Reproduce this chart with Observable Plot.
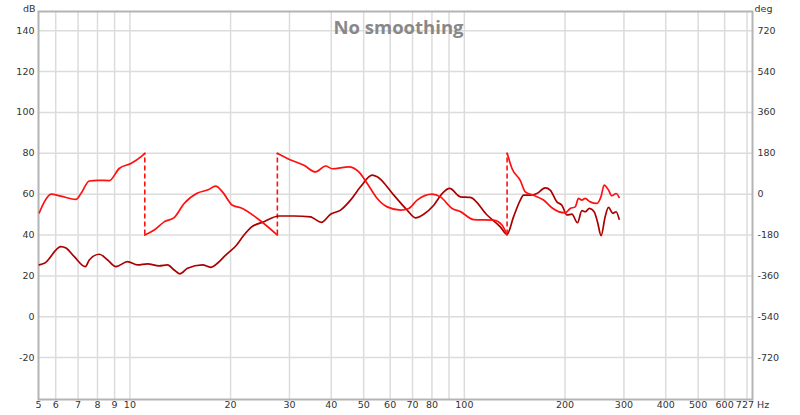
<!DOCTYPE html>
<html>
<head>
<meta charset="utf-8">
<script src="https://cdn.jsdelivr.net/npm/d3@7"></script>
<script src="https://cdn.jsdelivr.net/npm/@observablehq/plot@0.6"></script>
<style>
  html, body { margin: 0; padding: 0; background: #fff; }
</style>
</head>
<body>
<div id="chart"></div>
<script>
// ---- Data ----
const titleText = "No smoothing";
const freqTicks = [5.33, 6, 7, 8, 9, 10, 20, 30, 40, 50, 60, 70, 80, 100, 200, 300, 400, 500, 600, 727];
const freqTickLabels = ["5", "6", "7", "8", "9", "10", "20", "30", "40", "50", "60", "70", "80", "100", "200", "300", "400", "500", "600", "727 Hz"];
const gridFreqs = [6, 7, 8, 9, 10, 20, 30, 40, 50, 60, 70, 80, 90, 100, 200, 300, 400, 500, 600, 700];
const dbTicks = [140, 120, 100, 80, 60, 40, 20, 0, -20];
const degTickLabels = ["720", "540", "360", "180", "0", "-180", "-360", "-540", "-720"];

// SPL magnitude (dB)
const splFreq = [5.36, 5.55, 6.22, 6.44, 6.82, 7.36, 7.56, 8.10, 8.58, 9.08, 9.84, 10.54, 11.29, 12.23, 12.96, 13.56, 14.10, 14.87, 16.48, 17.45, 18.27, 19.34, 20.73, 21.94, 22.98, 25.17, 27.91, 30.94, 34.70, 35.5, 37.35, 39.81, 42.64, 45.67, 48.92, 53.03, 54.89, 61.52, 67.45, 71.4, 75.6, 81.0, 85.8, 90.4, 97.3, 104.2, 116.9, 128.1, 134.1, 140.3, 146.9, 150.3, 157.4, 164.8, 174.5, 180.6, 189.1, 195.7, 202.6, 209.7, 217.9, 224.6, 229.8, 236.6, 244.4, 250.0, 256.4, 263.6, 269.7, 277.9, 284.3, 290.2];
const splDb = [25.4, 26.2, 34.3, 33.6, 29.4, 24.5, 27.8, 30.6, 27.8, 24.5, 27.0, 25.4, 25.9, 24.9, 25.4, 22.9, 21.0, 23.7, 25.4, 24.2, 26.2, 30.2, 34.6, 40.0, 43.6, 46.5, 49.3, 49.3, 48.9, 48.1, 46.2, 50.2, 52.2, 57.1, 63.6, 69.3, 68.5, 59.5, 52.2, 48.4, 50.2, 54.6, 60.3, 62.8, 58.7, 58.4, 49.8, 44.0, 40.3, 48.9, 57.0, 59.5, 59.5, 60.3, 63.1, 62.0, 56.2, 54.6, 49.8, 50.2, 46.0, 51.9, 51.4, 53.0, 51.4, 46.5, 39.7, 48.9, 53.5, 50.6, 51.4, 47.8];

// Phase (degrees), wrapped segments
const phaseFreq1 = [5.36, 5.55, 5.81, 6.22, 6.90, 7.14, 7.56, 8.01, 8.68, 9.29, 10.07, 10.78, 11.08];
const phaseDeg1 = [-82, -34, 0, -9, -23, 3, 58, 61, 60, 113, 135, 164, 180];
const phaseFreq2 = [11.08, 11.82, 12.66, 13.56, 14.53, 15.93, 17.06, 18.06, 18.91, 20.26, 21.45, 24.06, 27.60];
const phaseDeg2 = [-180, -158, -122, -103, -41, 5, 18, 35, 10, -49, -60, -107, -180];
const phaseFreq3 = [27.60, 29.56, 33.14, 35.92, 38.47, 40.28, 45.13, 48.36, 51.24, 54.89, 58.79, 64.42, 68.19, 72.25, 80.1, 84.8, 91.9, 97.3, 106.6, 122.3, 129.6, 134.1];
const phaseDeg3 = [180, 157, 127, 98, 124, 112, 120, 98, 47, -19, -56, -70, -63, -26, 0, -12, -63, -77, -112, -114, -136, -180];
const phaseFreq4 = [134.3, 138.8, 146.9, 152.1, 161.0, 172.5, 182.7, 191.2, 200.2, 207.3, 214.5, 219.4, 224.6, 229.8, 237.8, 249.0, 256.4, 261.8, 269.7, 276.0, 284.3, 290.2];
const phaseDeg4 = [180, 113, 61, 10, -5, -26, -60, -77, -82, -63, -56, -19, -26, -19, -34, -41, -9, 40, 18, -7, 3, -14];
const wrapFreqs = [11.08, 27.60, 134.2];

// ---- Build tables ----
const degToDb = d => d / 9 + 60; // right axis: 180 deg per 20 dB, 0 deg at 60 dB
const spl = splFreq.map((f, i) => ({f, v: splDb[i]}));
const phase = [];
[[phaseFreq1, phaseDeg1], [phaseFreq2, phaseDeg2], [phaseFreq3, phaseDeg3], [phaseFreq4, phaseDeg4]]
  .forEach(([fs, ds], s) => fs.forEach((f, i) => phase.push({f, v: degToDb(ds[i]), seg: s})));
const xTicks = freqTicks.map((f, i) => ({f, label: freqTickLabels[i]}));
const degLabel = new Map(dbTicks.map((t, i) => [t, degTickLabels[i]]));

const chart = Plot.plot({
  width: 800,
  height: 415,
  marginLeft: 38,
  marginRight: 48,
  marginTop: 11,
  marginBottom: 16,
  style: {fontFamily: "DejaVu Sans, sans-serif", fontSize: "9.5px", color: "#333", background: "#fff"},
  x: {type: "log", domain: [5.33, 727], axis: null},
  y: {domain: [-40.5, 149.4]},
  marks: [
    Plot.ruleX(gridFreqs, {x: d => d, stroke: "#dcdcdc", strokeWidth: 1.5}),
    Plot.ruleY(dbTicks, {y: d => d, stroke: "#dcdcdc", strokeWidth: 1.5}),
    Plot.frame({stroke: "#b4b4b4", strokeWidth: 2}),
    Plot.text(xTicks, {x: "f", text: "label", frameAnchor: "bottom", dy: 8, fill: "#333"}),
    Plot.axisY({anchor: "left", ticks: dbTicks, tickFormat: d => String(d), tickSize: 0, tickPadding: 4, label: null}),
    Plot.axisY({anchor: "right", ticks: dbTicks, tickFormat: d => degLabel.get(d), tickSize: 0, tickPadding: 5, label: null}),
    Plot.text(["dB"], {frameAnchor: "top-left", dx: -3, dy: -6, textAnchor: "end"}),
    Plot.text(["deg"], {frameAnchor: "top-right", dx: 2, dy: -6, textAnchor: "start"}),
    Plot.text([titleText], {frameAnchor: "top", dx: 3, dy: 9, fontFamily: "Open Sans, sans-serif", fontWeight: "bold", fontSize: 18.5, fill: "#888"}),
    Plot.ruleX(wrapFreqs, {x: d => d, y1: degToDb(-180), y2: degToDb(180), stroke: "#ff1010", strokeWidth: 1.6, strokeDasharray: "5,3"}),
    Plot.line(spl, {x: "f", y: "v", stroke: "#aa0000", strokeWidth: 1.7, curve: "monotone-x"}),
    Plot.line(phase, {x: "f", y: "v", z: "seg", stroke: "#ff1010", strokeWidth: 1.7, curve: "monotone-x"})
  ]
});
document.getElementById("chart").appendChild(chart);
</script>
</body>
</html>
